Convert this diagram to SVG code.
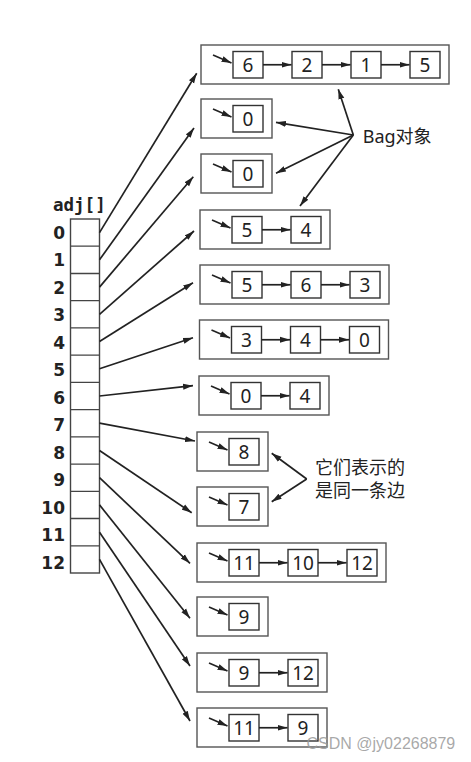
<svg xmlns="http://www.w3.org/2000/svg" width="471" height="762" viewBox="0 0 471 762">
<style>
.bag{fill:#fff;stroke:#555;stroke-width:1.4}
.nd{fill:#fff;stroke:#333;stroke-width:1.4}
.nt{font-family:"Noto Sans","Liberation Sans",sans-serif;font-size:19px;fill:#222;text-anchor:middle}
.ln{stroke:#222;stroke-width:1.7;fill:none;marker-end:url(#ah)}
.sm{stroke:#222;stroke-width:1.7;fill:none;marker-end:url(#ah)}
.idx{font-family:"DejaVu Sans",sans-serif;font-weight:bold;font-size:17px;fill:#222;text-anchor:end}
.lab{font-family:"Noto Sans","Noto Sans CJK SC",sans-serif;font-size:18px;fill:#222}
</style>
<defs>
<marker id="ah" markerUnits="userSpaceOnUse" markerWidth="10" markerHeight="7" refX="10" refY="3.5" orient="auto">
<path d="M0,0.5 L10,3.5 L0,6.5 z" fill="#222"/>
</marker>
</defs>
<rect width="471" height="762" fill="#fff"/>

<g id="adj">
<text x="53" y="211" style="font-family:'DejaVu Sans Mono',monospace;font-weight:bold;font-size:17.5px;fill:#222">adj[]</text>
<rect x="70.5" y="219" width="29" height="354" fill="#fff" stroke="#444" stroke-width="1.4"/>
<path d="M70.5 246.2H99.5M70.5 273.5H99.5M70.5 300.7H99.5M70.5 327.9H99.5M70.5 355.2H99.5M70.5 382.4H99.5M70.5 409.6H99.5M70.5 436.8H99.5M70.5 464.1H99.5M70.5 491.3H99.5M70.5 518.5H99.5M70.5 545.8H99.5" stroke="#444" stroke-width="1.3"/>
<text class="idx" x="65" y="238.5">0</text>
<text class="idx" x="65" y="266">1</text>
<text class="idx" x="65" y="293.6">2</text>
<text class="idx" x="65" y="321.1">3</text>
<text class="idx" x="65" y="348.7">4</text>
<text class="idx" x="65" y="376.2">5</text>
<text class="idx" x="65" y="403.7">6</text>
<text class="idx" x="65" y="431.3">7</text>
<text class="idx" x="65" y="458.8">8</text>
<text class="idx" x="65" y="486.4">9</text>
<text class="idx" x="65" y="513.9">10</text>
<text class="idx" x="65" y="541.4">11</text>
<text class="idx" x="65" y="569">12</text>
</g>

<g id="bag0">
<rect class="bag" x="201" y="45" width="248" height="39"/>
<line class="sm" x1="213" y1="55" x2="231.5" y2="63"/>
<rect class="nd" x="233" y="51.5" width="30" height="26.5"/><text class="nt" x="248" y="71.5">6</text>
<rect class="nd" x="292" y="51.5" width="30" height="26.5"/><text class="nt" x="307" y="71.5">2</text>
<rect class="nd" x="351" y="51.5" width="30" height="26.5"/><text class="nt" x="366" y="71.5">1</text>
<rect class="nd" x="410" y="51.5" width="30" height="26.5"/><text class="nt" x="425" y="71.5">5</text>
<line class="ln" x1="263" y1="64.75" x2="291.5" y2="64.75"/>
<line class="ln" x1="322" y1="64.75" x2="350.5" y2="64.75"/>
<line class="ln" x1="381" y1="64.75" x2="409.5" y2="64.75"/>
</g>

<g id="bag1">
<rect class="bag" x="201" y="99" width="71" height="39"/>
<line class="sm" x1="213" y1="109" x2="231.5" y2="117"/>
<rect class="nd" x="233" y="105.5" width="30" height="26.5"/><text class="nt" x="248" y="125.5">0</text>
</g>

<g id="bag2">
<rect class="bag" x="201" y="154" width="71" height="39"/>
<line class="sm" x1="213" y1="164" x2="231.5" y2="172"/>
<rect class="nd" x="233" y="160.5" width="30" height="26.5"/><text class="nt" x="248" y="180.5">0</text>
</g>

<g id="bag3">
<rect class="bag" x="200" y="210" width="130" height="39"/>
<line class="sm" x1="212" y1="220" x2="230.5" y2="228"/>
<rect class="nd" x="232" y="216.5" width="30" height="26.5"/><text class="nt" x="247" y="236.5">5</text>
<rect class="nd" x="291" y="216.5" width="30" height="26.5"/><text class="nt" x="306" y="236.5">4</text>
<line class="ln" x1="262" y1="229.75" x2="290.5" y2="229.75"/>
</g>

<g id="bag4">
<rect class="bag" x="200" y="265" width="189" height="39"/>
<line class="sm" x1="212" y1="275" x2="230.5" y2="283"/>
<rect class="nd" x="232" y="271.5" width="30" height="26.5"/><text class="nt" x="247" y="291.5">5</text>
<rect class="nd" x="291" y="271.5" width="30" height="26.5"/><text class="nt" x="306" y="291.5">6</text>
<rect class="nd" x="350" y="271.5" width="30" height="26.5"/><text class="nt" x="365" y="291.5">3</text>
<line class="ln" x1="262" y1="284.75" x2="290.5" y2="284.75"/>
<line class="ln" x1="321" y1="284.75" x2="349.5" y2="284.75"/>
</g>

<g id="bag5">
<rect class="bag" x="199.5" y="320" width="189" height="39"/>
<line class="sm" x1="211.5" y1="330" x2="230" y2="338"/>
<rect class="nd" x="231.5" y="326.5" width="30" height="26.5"/><text class="nt" x="246.5" y="346.5">3</text>
<rect class="nd" x="290.5" y="326.5" width="30" height="26.5"/><text class="nt" x="305.5" y="346.5">4</text>
<rect class="nd" x="349.5" y="326.5" width="30" height="26.5"/><text class="nt" x="364.5" y="346.5">0</text>
<line class="ln" x1="261.5" y1="339.75" x2="290" y2="339.75"/>
<line class="ln" x1="320.5" y1="339.75" x2="349" y2="339.75"/>
</g>

<g id="bag6">
<rect class="bag" x="199" y="376" width="130" height="39"/>
<line class="sm" x1="211" y1="386" x2="229.5" y2="394"/>
<rect class="nd" x="231" y="382.5" width="30" height="26.5"/><text class="nt" x="246" y="402.5">0</text>
<rect class="nd" x="290" y="382.5" width="30" height="26.5"/><text class="nt" x="305" y="402.5">4</text>
<line class="ln" x1="261" y1="395.75" x2="289.5" y2="395.75"/>
</g>

<g id="bag7">
<rect class="bag" x="197" y="432" width="71" height="39"/>
<line class="sm" x1="209" y1="442" x2="227.5" y2="450"/>
<rect class="nd" x="229" y="438.5" width="30" height="26.5"/><text class="nt" x="244" y="458.5">8</text>
</g>

<g id="bag8">
<rect class="bag" x="197" y="487" width="71" height="39"/>
<line class="sm" x1="209" y1="497" x2="227.5" y2="505"/>
<rect class="nd" x="229" y="493.5" width="30" height="26.5"/><text class="nt" x="244" y="513.5">7</text>
</g>

<g id="bag9">
<rect class="bag" x="197" y="543" width="189" height="39"/>
<line class="sm" x1="209" y1="553" x2="227.5" y2="561"/>
<rect class="nd" x="229" y="549.5" width="30" height="26.5"/><text class="nt" x="244" y="569.5">11</text>
<rect class="nd" x="288" y="549.5" width="30" height="26.5"/><text class="nt" x="303" y="569.5">10</text>
<rect class="nd" x="347" y="549.5" width="30" height="26.5"/><text class="nt" x="362" y="569.5">12</text>
<line class="ln" x1="259" y1="562.75" x2="287.5" y2="562.75"/>
<line class="ln" x1="318" y1="562.75" x2="346.5" y2="562.75"/>
</g>

<g id="bag10">
<rect class="bag" x="197" y="597" width="71" height="39"/>
<line class="sm" x1="209" y1="607" x2="227.5" y2="615"/>
<rect class="nd" x="229" y="603.5" width="30" height="26.5"/><text class="nt" x="244" y="623.5">9</text>
</g>

<g id="bag11">
<rect class="bag" x="197" y="653" width="130" height="39"/>
<line class="sm" x1="209" y1="663" x2="227.5" y2="671"/>
<rect class="nd" x="229" y="659.5" width="30" height="26.5"/><text class="nt" x="244" y="679.5">9</text>
<rect class="nd" x="288" y="659.5" width="30" height="26.5"/><text class="nt" x="303" y="679.5">12</text>
<line class="ln" x1="259" y1="672.75" x2="287.5" y2="672.75"/>
</g>

<g id="bag12">
<rect class="bag" x="197" y="708" width="130" height="39"/>
<line class="sm" x1="209" y1="718" x2="227.5" y2="726"/>
<rect class="nd" x="229" y="714.5" width="30" height="26.5"/><text class="nt" x="244" y="734.5">11</text>
<rect class="nd" x="288" y="714.5" width="30" height="26.5"/><text class="nt" x="303" y="734.5">9</text>
<line class="ln" x1="259" y1="727.75" x2="287.5" y2="727.75"/>
</g>

<g id="connectors">
<line class="ln" x1="99.5" y1="232.6" x2="196.7" y2="73.3"/>
<line class="ln" x1="99.5" y1="259.8" x2="194" y2="128"/>
<line class="ln" x1="99.5" y1="287.1" x2="193.3" y2="176.7"/>
<line class="ln" x1="99.5" y1="314.3" x2="194" y2="231"/>
<line class="ln" x1="99.5" y1="341.5" x2="193" y2="282.7"/>
<line class="ln" x1="99.5" y1="368.8" x2="193" y2="337.7"/>
<line class="ln" x1="99.5" y1="396" x2="193" y2="385.7"/>
<line class="ln" x1="99.5" y1="423.2" x2="195" y2="441"/>
<line class="ln" x1="99.5" y1="450.5" x2="191.7" y2="512.7"/>
<line class="ln" x1="99.5" y1="477.7" x2="190" y2="563.3"/>
<line class="ln" x1="99.5" y1="504.9" x2="190" y2="618.3"/>
<line class="ln" x1="99.5" y1="532.2" x2="190" y2="666"/>
<line class="ln" x1="99.5" y1="559.4" x2="190" y2="721"/>
<line class="ln" x1="353.3" y1="135" x2="338.3" y2="89.3"/>
<line class="ln" x1="353.3" y1="135" x2="276" y2="122.3"/>
<line class="ln" x1="353.3" y1="135" x2="276" y2="173.3"/>
<line class="ln" x1="353.3" y1="135" x2="300" y2="206"/>
<line class="ln" x1="306.7" y1="479" x2="271.7" y2="453.3"/>
<line class="ln" x1="306.7" y1="479" x2="271.7" y2="501.7"/>
</g>

<g id="labels">
<text class="lab" x="362.7" y="143">Bag对象</text>
<text class="lab" x="315" y="474">它们表示的</text>
<text class="lab" x="315" y="496.5">是同一条边</text>
<text x="306.5" y="749" style="font-family:'Liberation Sans',sans-serif;font-size:16px;fill:#999;fill-opacity:0.85">CSDN @jy02268879</text>
</g>
</svg>
